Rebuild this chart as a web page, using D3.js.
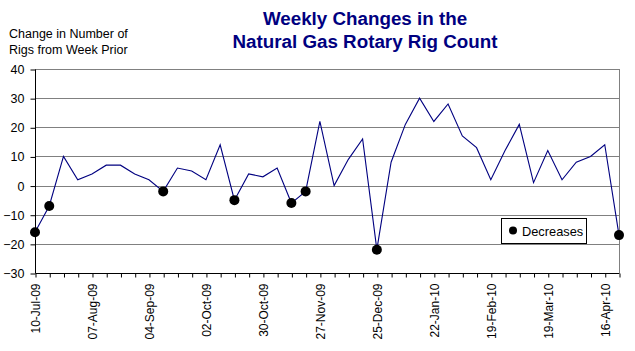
<!DOCTYPE html>
<html>
<head>
<meta charset="utf-8">
<script src="https://cdn.jsdelivr.net/npm/d3@7"></script>
<style>
  html, body { margin: 0; padding: 0; background: #fff; }
  svg text { font-family: "Liberation Sans", Arial, sans-serif; }
</style>
</head>
<body>
<svg id="chart" width="635" height="351"></svg>
<script>
const dates = ["10-Jul-09","17-Jul-09","24-Jul-09","31-Jul-09","07-Aug-09","14-Aug-09","21-Aug-09","28-Aug-09",
  "04-Sep-09","11-Sep-09","18-Sep-09","25-Sep-09","02-Oct-09","09-Oct-09","16-Oct-09","23-Oct-09",
  "30-Oct-09","06-Nov-09","13-Nov-09","20-Nov-09","27-Nov-09","04-Dec-09","11-Dec-09","18-Dec-09",
  "25-Dec-09","01-Jan-10","08-Jan-10","15-Jan-10","22-Jan-10","29-Jan-10","05-Feb-10","12-Feb-10",
  "19-Feb-10","26-Feb-10","05-Mar-10","12-Mar-10","19-Mar-10","26-Mar-10","02-Apr-10","09-Apr-10",
  "16-Apr-10","23-Apr-10"];
const changes = [-16,-7,10,2,4,7,7,4,2,-2,6,5,2,14,-5,4,3,6,-6,-2,22,0,9,16,-22,8,21,30,22,28,17,13,2,12,21,1,12,2,8,10,14,-17];
const xLabels = ["10-Jul-09","07-Aug-09","04-Sep-09","02-Oct-09","30-Oct-09","27-Nov-09","25-Dec-09","22-Jan-10","19-Feb-10","19-Mar-10","16-Apr-10"];
const yTicks = [-30,-20,-10,0,10,20,30,40];
const titleLines = ["Weekly Changes in the","Natural Gas Rotary Rig Count"];
const yTitleLines = ["Change in Number of","Rigs from Week Prior"];
const legendLabel = "Decreases";

const svg = d3.select("#chart");
const L = 35, R = 619, T = 69, B = 273;
const x = d3.scalePoint().domain(dates).range([L, R]);
const y = d3.scaleLinear().domain([-30, 40]).range([B, T]);

// gridlines
svg.append("g").selectAll("line").data(yTicks.filter(v => v !== -30)).join("line")
  .attr("x1", L).attr("x2", R)
  .attr("y1", d => Math.round(y(d)) + 0.5).attr("y2", d => Math.round(y(d)) + 0.5)
  .attr("stroke", "#808080").attr("stroke-width", 1);
// right border
svg.append("line").attr("x1", R + 0.5).attr("x2", R + 0.5).attr("y1", T).attr("y2", B)
  .attr("stroke", "#808080");

// y axis
const yAxis = svg.append("g").attr("transform", `translate(${L + 0.5},0.5)`)
  .call(d3.axisLeft(y).tickValues(yTicks).tickSize(5).tickPadding(6).tickFormat(d3.format("d")));
yAxis.select(".domain").attr("d", `M0,${Math.round(y(40))}V${Math.round(y(-30))}`).attr("stroke", "#000");
yAxis.selectAll(".tick line").attr("stroke", "#000");
yAxis.selectAll("text").attr("font-size", "12.5px").attr("fill", "#000");

// x axis
const xAxis = svg.append("g").attr("transform", `translate(0.5,${Math.round(y(-30)) + 0.5})`)
  .call(d3.axisBottom(x).tickSize(4).tickFormat(d => xLabels.includes(d) ? d : ""));
xAxis.select(".domain").attr("d", `M${L},0H${R}`).attr("stroke", "#000");
xAxis.selectAll(".tick line").attr("stroke", "#000");
xAxis.selectAll("text")
  .attr("transform", "rotate(-90)")
  .attr("text-anchor", "end")
  .attr("x", -10).attr("y", 0).attr("dy", "0.35em")
  .attr("font-size", "12px").attr("fill", "#000");

// line
const line = d3.line().x((d, i) => x(dates[i])).y(d => y(d));
svg.append("path").datum(changes).attr("d", line)
  .attr("fill", "none").attr("stroke", "#000080").attr("stroke-width", 1.1);

// decrease markers
const dec = changes.map((v, i) => ({v, i})).filter(d => d.v < 0);
svg.append("g").selectAll("circle").data(dec).join("circle")
  .attr("cx", d => x(dates[d.i])).attr("cy", d => y(d.v)).attr("r", 5)
  .attr("fill", "#000");

// titles
svg.append("text").attr("x", 365).attr("text-anchor", "middle")
  .attr("font-size", "18.8px").attr("font-weight", "bold").attr("fill", "#000080")
  .selectAll("tspan").data(titleLines).join("tspan")
  .attr("x", 365).attr("y", (d, i) => 25 + i * 23).text(d => d);

svg.append("text").attr("font-size", "12.5px").attr("fill", "#000")
  .selectAll("tspan").data(yTitleLines).join("tspan")
  .attr("x", 9).attr("y", (d, i) => 37.5 + i * 16.5).text(d => d);

// legend
const lg = svg.append("g");
lg.append("rect").attr("x", 501.5).attr("y", 218.5).attr("width", 85).attr("height", 25)
  .attr("fill", "#fff").attr("stroke", "#000");
lg.append("circle").attr("cx", 513).attr("cy", 230.5).attr("r", 4).attr("fill", "#000");
lg.append("text").attr("x", 522).attr("y", 235.5).attr("font-size", "12.8px").attr("fill", "#000").text(legendLabel);
</script>
</body>
</html>
